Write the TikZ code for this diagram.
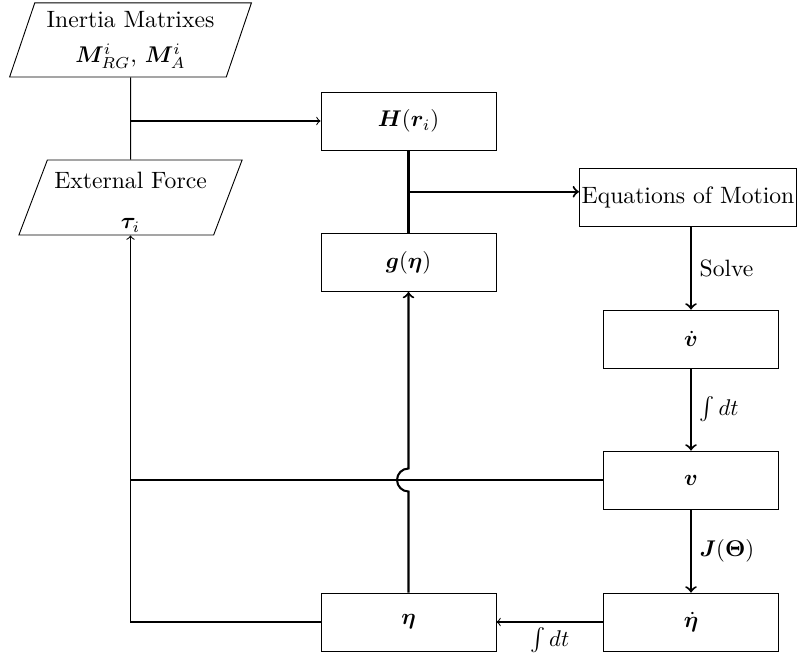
\documentclass[tikz,border=0pt]{standalone}
\usepackage{amsmath,bm}
\usetikzlibrary{shapes.geometric,calc}
\tikzset{
  every node/.append style={font=\fontsize{10.4pt}{12.5pt}\selectfont},
  blk/.style={draw,rectangle,minimum width=77pt,minimum height=25.5pt,inner sep=2pt},
  para/.style={draw,trapezium,trapezium left angle=70,trapezium right angle=110,trapezium stretches=true,align=center,inner sep=1pt},
  thin line/.style={line width=0.45pt},
  thick line/.style={line width=0.9pt}
}
\begin{document}
\begin{tikzpicture}[x=0.44pt,y=-0.44pt]
\useasboundingbox (0,0) rectangle (797,663);
\node[para,minimum width=107pt,minimum height=32.6pt] (inertia) at (130.5,40) {Inertia Matrixes\\[3pt] $\bm{M}^i_{RG}$, $\bm{M}^i_A$};
\node[para,minimum width=99pt,minimum height=33pt] (ext) at (130.5,197.5) {\rule{0pt}{11.5pt}External Force\\[5pt] $\bm{\tau}_i$};
\node[blk] (H) at (408.5,121) {$\bm{H}(\bm{r}_i)$};
\node[blk] (g) at (408.5,262.5) {$\bm{g}(\bm{\eta})$};
\node[blk,minimum width=95.5pt,inner sep=1pt] (eom) at (688,197) {Equations of Motion};
\node[blk] (vd) at (691,339) {$\dot{\bm{v}}$};
\node[blk] (v) at (691,480) {$\bm{v}$};
\node[blk] (etad) at (691,622) {$\dot{\bm{\eta}}$};
\node[blk] (eta) at (408.5,622) {$\bm{\eta}$};

% left column
\draw[thin line] (inertia) -- (ext);
\draw[thin line,->] (H.west -| inertia.center) -- (H.west);
% H - g and branch to equations
\draw[thick line] (H) -- (g);
\coordinate (br) at ($(H.south)!0.5!(g.north)$);
\draw[thick line,->] (br) -- (br -| eom.west);
% right column
\draw[thick line,->] (vd.north |- eom.south) -- node[right]{Solve} (vd.north);
\draw[thick line,->] (vd) -- node[right]{$\int dt$} (v);
\draw[thick line,->] (v) -- node[right]{$\bm{J}(\bm{\Theta})$} (etad);
\draw[thin line,->] (etad) -- node[below,yshift=1pt]{$\int dt$} (eta);
% feedback from v to left
\draw[thin line] (v.west) -- (v.west -| inertia.center);
% eta to external force
\draw[thin line,->] (eta.west) -| (ext);
% eta up to g with jump over the v line
\coordinate (cross) at (v.west -| eta.north);
\draw[thick line,->] (eta.north) -- ($(cross)+(0,11.5)$)
  arc[start angle=-90,end angle=-270,radius=5.06pt] -- (g.south);
\end{tikzpicture}
\end{document}
